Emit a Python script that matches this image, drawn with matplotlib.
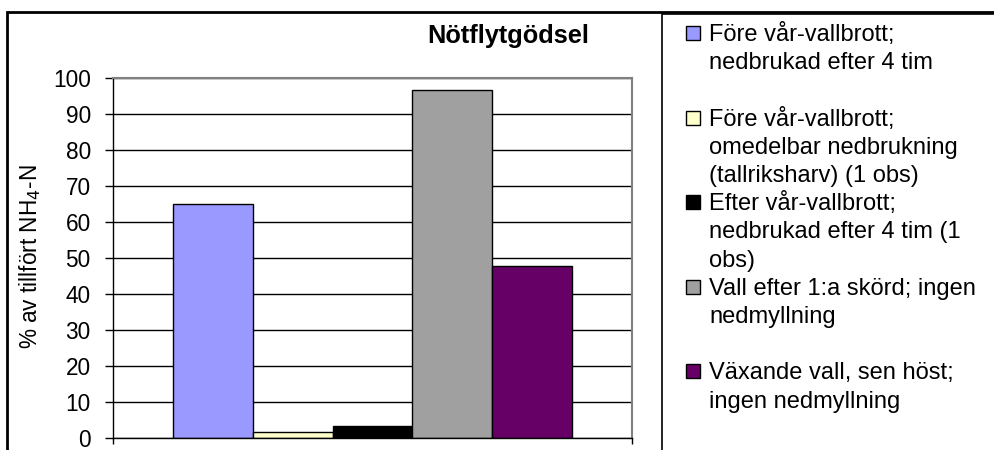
import matplotlib
matplotlib.use("Agg")
import matplotlib.pyplot as plt
from matplotlib.patches import Rectangle

plt.rcParams['font.family'] = ['Liberation Sans', 'DejaVu Sans']

# data
series_labels = [
    "Före vår-vallbrott;\nnedbrukad efter 4 tim",
    "Före vår-vallbrott;\nomedelbar nedbrukning\n(tallriksharv) (1 obs)",
    "Efter vår-vallbrott;\nnedbrukad efter 4 tim (1\nobs)",
    "Vall efter 1:a skörd; ingen\nnedmyllning",
    "Växande vall, sen höst;\ningen nedmyllning",
]
values = [65.0, 1.6, 3.4, 96.8, 47.7]
colors = ["#9999FF", "#FFFFCC", "#000000", "#A0A0A0", "#660066"]
yticks = list(range(0, 101, 10))
title = "Nötflytgödsel"
ylabel = "% av tillfört NH$_4$-N"

W, H = 995, 450
fig = plt.figure(figsize=(W / 100, H / 100), dpi=100)

def fx(px):
    return px / W

def fy(py):
    return 1 - py / H

# outer chart frame
fig.patches.append(Rectangle((fx(7), fy(470)), fx(1100), fy(12) - fy(470),
                             transform=fig.transFigure, fill=False,
                             edgecolor="black", linewidth=2))

ax = fig.add_axes([fx(113), fy(438), fx(632) - fx(113), fy(78) - fy(438)])

# bars, gap width 150%
n = len(values)
bw = 1 / (n + 1.5)
x0 = 0.5 - n * bw / 2
for i, v in enumerate(values):
    ax.bar(x0 + (i + 0.5) * bw, v, width=bw, color=colors[i],
           edgecolor="black", linewidth=1, zorder=2)

ax.set_xlim(0, 1)
ax.set_ylim(0, 100)
ax.set_yticks(yticks)
ax.set_yticklabels([str(t) for t in yticks], fontsize=16.3)
ax.set_xticks([0, 1])
ax.set_xticklabels([])
ax.tick_params(axis="y", length=6, width=1, pad=10, direction="out")
ax.tick_params(axis="x", length=4, width=1, direction="out")
ax.yaxis.grid(True, color="black", linewidth=1)
ax.set_axisbelow(True)
for s in ["top", "right"]:
    ax.spines[s].set_color("#808080")
    ax.spines[s].set_linewidth(1.5)
for s in ["left", "bottom"]:
    ax.spines[s].set_color("black")
    ax.spines[s].set_linewidth(1)

fig.text(fx(30), fy(257), ylabel, rotation=90, ha="center", va="center",
         fontsize=16.3)
fig.text(fx(508), fy(43), title, ha="center", va="baseline",
         fontsize=18.3, fontweight="bold")

# legend box
fig.patches.append(Rectangle((fx(662), fy(470)), fx(400), fy(14) - fy(470),
                             transform=fig.transFigure, fill=False,
                             edgecolor="black", linewidth=1.2))
line_h = 28.2
row = 0
for lab, c in zip(series_labels, colors):
    lines = lab.split("\n")
    base = 41 + line_h * row
    fig.patches.append(Rectangle((fx(686), fy(base - 1)), fx(14), fy(0) - fy(14),
                                 transform=fig.transFigure, facecolor=c,
                                 edgecolor="black", linewidth=1))
    for k, t in enumerate(lines):
        fig.text(fx(709), fy(base + line_h * k), t, ha="left", va="baseline",
                 fontsize=17)
    row += max(len(lines), 3)

fig.savefig("out.png", dpi=100)
